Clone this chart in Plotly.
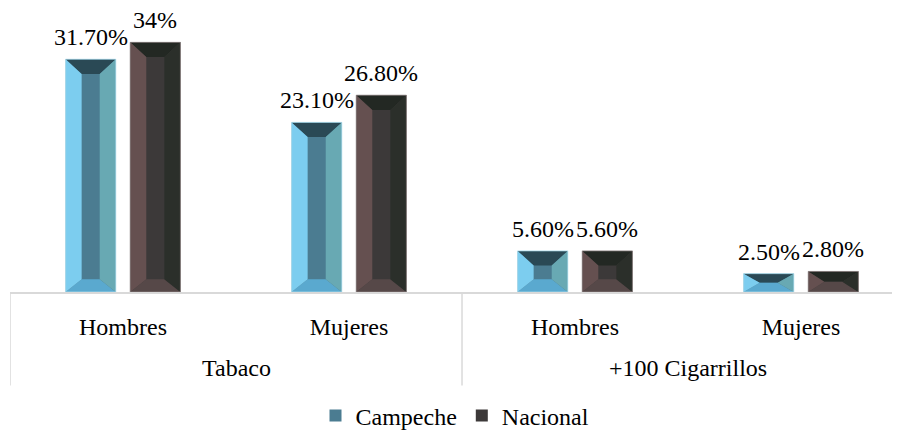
import plotly.graph_objects as go

# ---- data ----
categories = ["Hombres", "Mujeres", "Hombres", "Mujeres"]
groups = ["Tabaco", "+100 Cigarrillos"]
group_spans = [(0, 1), (2, 3)]
campeche = [31.7, 23.1, 5.6, 2.5]
nacional = [34.0, 26.8, 5.6, 2.8]
campeche_labels = ["31.70%", "23.10%", "5.60%", "2.50%"]
nacional_labels = ["34%", "26.80%", "5.60%", "2.80%"]

FONT = "Liberation Serif"
FS = 24

# layout geometry (styles)
W = 0.222        # bar width in category units
OFF = 0.143      # bar centre offset from category centre
BX = 0.071       # side bevel width (x units)
BT = 2.0         # top bevel height (% units)
BB = 1.75        # bottom bevel height (% units)

styles = {
    "Campeche": dict(center="#4b7c91", top="#2a4955", bottom="#5aa9cf",
                     left="#7ccdef", right="#68a9b3", edge="#a9dcec"),
    "Nacional": dict(center="#3c3939", top="#232823", bottom="#564848",
                     left="#655050", right="#2b2f2a", edge="#8a8080"),
}

pos = list(range(len(categories)))
fig = go.Figure()


def bevel_traces(name, values, shift):
    st = styles[name]
    xs = [p + shift for p in pos]
    fig.add_trace(go.Bar(
        x=xs, y=values, width=W, name=name,
        marker=dict(color=st["center"], line=dict(width=0)),
        hoverinfo="skip",
    ))
    polys = {"top": ([], []), "bottom": ([], []), "left": ([], []), "right": ([], [])}
    ox, oy = [], []
    for xc, h in zip(xs, values):
        x0, x1 = xc - W / 2, xc + W / 2
        bt = min(BT, h / 2)
        bb = min(BB, h / 2)
        xi0, xi1 = x0 + BX, x1 - BX
        yi0, yi1 = bb, h - bt
        shapes_pts = {
            "top": [(x0, h), (x1, h), (xi1, yi1), (xi0, yi1)],
            "bottom": [(x0, 0), (x1, 0), (xi1, yi0), (xi0, yi0)],
            "left": [(x0, 0), (x0, h), (xi0, yi1), (xi0, yi0)],
            "right": [(x1, 0), (x1, h), (xi1, yi1), (xi1, yi0)],
        }
        for k, pts in shapes_pts.items():
            px, py = polys[k]
            px += [p[0] for p in pts] + [pts[0][0], None]
            py += [p[1] for p in pts] + [pts[0][1], None]
        ox += [x0, x1, x1, x0, x0, None]
        oy += [0, 0, h, h, 0, None]
    for k, (px, py) in polys.items():
        fig.add_trace(go.Scatter(
            x=px, y=py, mode="lines", fill="toself", fillcolor=st[k],
            line=dict(width=0, color=st[k]), showlegend=False, hoverinfo="skip",
        ))
    fig.add_trace(go.Scatter(
        x=ox, y=oy, mode="lines", line=dict(width=0.8, color=st["edge"]),
        showlegend=False, hoverinfo="skip",
    ))
    return xs


xs_c = bevel_traces("Campeche", campeche, -OFF)
xs_n = bevel_traces("Nacional", nacional, OFF)

annotations = []
for xs, vals, labs in [(xs_c, campeche, campeche_labels), (xs_n, nacional, nacional_labels)]:
    for x, v, t in zip(xs, vals, labs):
        annotations.append(dict(
            x=x, y=v, text=t, showarrow=False, xref="x", yref="y",
            yanchor="bottom", yshift=7, font=dict(family=FONT, size=FS, color="#000000"),
        ))

# group labels
for g, (a, b) in zip(groups, group_spans):
    annotations.append(dict(
        x=(a + b) / 2, y=-0.273, xref="x", yref="paper", text=g, showarrow=False,
        yanchor="middle", font=dict(family=FONT, size=FS, color="#000000"),
    ))

shapes = []
for b in [-0.5, 1.5]:
    shapes.append(dict(type="line", xref="x", yref="paper", x0=b, x1=b,
                       y0=0, y1=-0.335, line=dict(color="#d9d9d9", width=1.5)))

fig.update_layout(
    width=900, height=432,
    margin=dict(l=2, r=8, t=5, b=143),
    paper_bgcolor="white", plot_bgcolor="white",
    barmode="overlay",
    font=dict(family=FONT, size=FS, color="#000000"),
    xaxis=dict(
        range=[-0.5, 3.438], tickvals=pos, ticktext=categories,
        showline=True, linecolor="#d9d9d9", linewidth=1.5,
        showgrid=False, zeroline=False, ticks="", ticklabelstandoff=12,
        tickfont=dict(family=FONT, size=FS, color="#000000"),
    ),
    yaxis=dict(range=[0, 38], visible=False, showgrid=False, zeroline=False),
    legend=dict(orientation="h", x=0.5, xanchor="center", y=-0.444, yanchor="middle",
                font=dict(family=FONT, size=FS, color="#000000"), itemwidth=30,
                tracegroupgap=0),
    annotations=annotations,
    shapes=shapes,
    showlegend=True,
)

fig.write_html("out.html")
